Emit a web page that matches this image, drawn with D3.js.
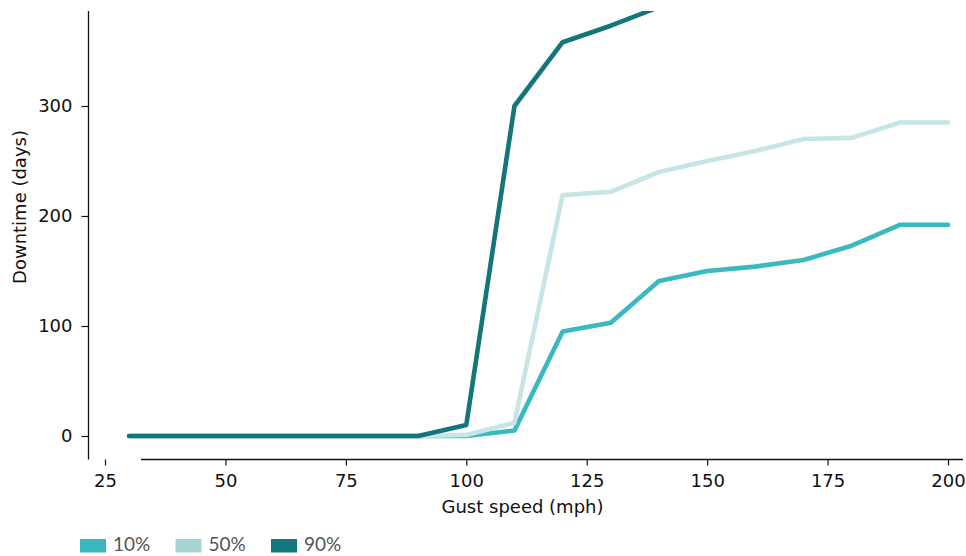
<!DOCTYPE html>
<html>
<head>
<meta charset="utf-8">
<script src="https://cdn.jsdelivr.net/npm/d3@7"></script>
<style>
  body { margin: 0; background: #fff; }
  svg { display: block; }
  .tick text { font-family: "DejaVu Sans", sans-serif; font-size: 18px; fill: #111; }
  .tick line { stroke: #111; stroke-width: 1.2; }
</style>
</head>
<body>
<svg id="chart" width="966" height="556"></svg>
<script>
// Gust speeds (mph)
let speeds = [30, 40, 50, 60, 70, 80, 90, 100, 110, 120, 130, 140, 150, 160, 170, 180, 190, 200];

// Downtime (days) per percentile
let p10 = [0, 0, 0, 0, 0, 0, 0, 0, 5, 95, 103, 141, 150, 154, 160, 173, 192, 192];
let p50 = [0, 0, 0, 0, 0, 0, 0, 1, 12, 219, 222, 240, 250, 259, 270, 271, 285, 285];
let p90 = [0, 0, 0, 0, 0, 0, 0, 10, 300, 358, 373, 390, 405, 415, 425, 432, 445, 445];

let seriesNames = ["10%", "50%", "90%"];
let lineColors = ["#3ab9c0", "#c8e5e5", "#12767a"];
let swatchColors = ["#3ab9c0", "#a8d5d3", "#12767a"];

let xTicks = [25, 50, 75, 100, 125, 150, 175, 200];
let yTicks = [0, 100, 200, 300];

const svg = d3.select("#chart");

// scales
const x = d3.scaleLinear().domain([25, 200]).range([105, 948]);
const y = d3.scaleLinear().domain([0, 300]).range([436, 106]);

// clip lines at the top of the axes
svg.append("defs").append("clipPath").attr("id", "plotClip")
  .append("rect").attr("x", 89).attr("y", 11).attr("width", 874).attr("height", 448);

// Lines
const line = d3.line().x((d) => x(d[0])).y((d) => y(d[1]));
const allSeries = [p10, p50, p90];

svg.append("g").attr("clip-path", "url(#plotClip)")
  .selectAll("path")
  .data(allSeries)
  .enter()
  .append("path")
  .attr("d", (vals) => line(speeds.map((s, i) => [s, vals[i]])))
  .attr("fill", "none")
  .attr("stroke", (d, i) => lineColors[i])
  .attr("stroke-width", 4.6)
  .attr("stroke-linecap", "round")
  .attr("stroke-linejoin", "round");

// Y axis (spine offset outward)
const yAxis = svg.append("g").attr("transform", "translate(88.5,0)")
  .call(d3.axisLeft(y).tickValues(yTicks).tickSize(7).tickPadding(9));
yAxis.select(".domain").remove();
svg.append("line")
  .attr("x1", 88.5).attr("x2", 88.5).attr("y1", 11).attr("y2", 459.5)
  .attr("stroke", "#111").attr("stroke-width", 1.3);

// X axis
const xAxis = svg.append("g").attr("transform", "translate(0,459.5)")
  .call(d3.axisBottom(x).tickValues(xTicks).tickSize(6).tickPadding(9));
xAxis.select(".domain").remove();
svg.append("line")
  .attr("x1", 141).attr("x2", 963).attr("y1", 459.5).attr("y2", 459.5)
  .attr("stroke", "#111").attr("stroke-width", 1.3);

// Axis titles
svg.append("text")
  .attr("x", 522.5).attr("y", 513)
  .attr("text-anchor", "middle")
  .style("font-family", "DejaVu Sans, sans-serif")
  .style("font-size", "18px")
  .attr("fill", "#111")
  .text("Gust speed (mph)");

svg.append("text")
  .attr("transform", "translate(26,207) rotate(-90)")
  .attr("text-anchor", "middle")
  .style("font-family", "DejaVu Sans, sans-serif")
  .style("font-size", "18px")
  .attr("fill", "#111")
  .text("Downtime (days)");

// Legend
const legend = svg.selectAll(".legend")
  .data(seriesNames)
  .enter()
  .append("g")
  .attr("class", "legend")
  .attr("transform", (d, i) => "translate(" + (80 + i * 95.5) + ",539)");

legend.append("rect")
  .attr("width", 26).attr("height", 13.5)
  .attr("fill", (d, i) => swatchColors[i]);

legend.append("text")
  .attr("x", 33).attr("y", 12)
  .style("font-family", "Lato, sans-serif")
  .style("font-size", "19px")
  .attr("fill", "#555")
  .text((d) => d);
</script>
</body>
</html>
